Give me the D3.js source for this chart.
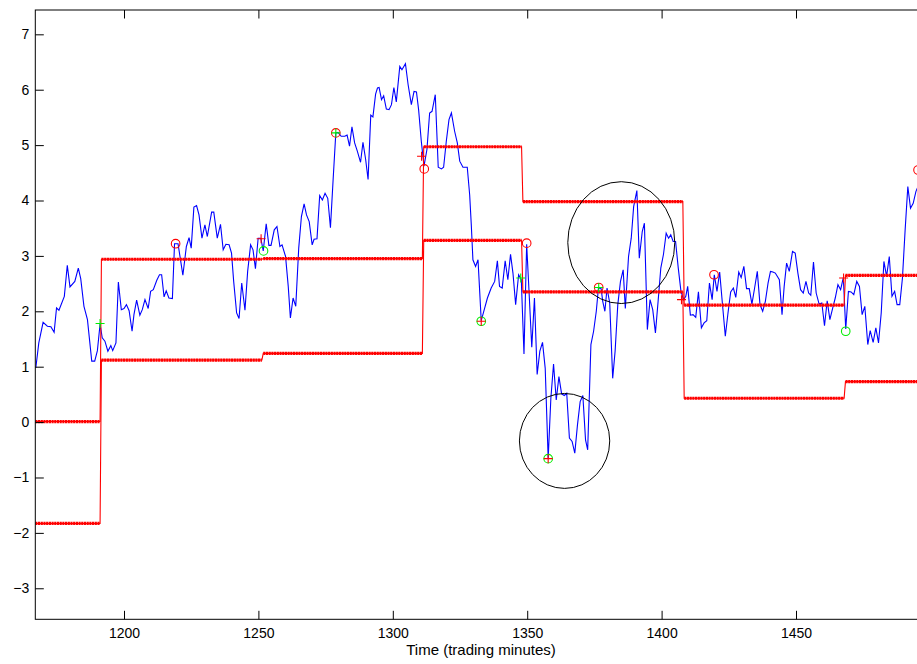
<!DOCTYPE html>
<html>
<head>
<meta charset="utf-8">
<script src="https://cdn.jsdelivr.net/npm/d3@7"></script>
<style>
  body { margin: 0; background: #fff; }
  svg { display: block; }
  text { font-family: "Liberation Sans", Arial, Helvetica, sans-serif; }
</style>
</head>
<body>
<svg id="chart" width="917" height="664"></svg>
<script>
// Spread series (trading minute, value)
const minutes = [
  1167.2,1168.3,1169.9,1171.5,1172.8,1174.0,1174.9,1175.8,1177.8,1178.9,1179.9,1181.7,1183.0,1183.9,1185.1,1186.4,
  1188.0,1189.1,1190.1,1191.1,1191.9,1192.9,1194.0,1195.1,1195.8,1197.0,1197.9,1199.0,1200.0,1200.9,1201.9,1203.0,
  1203.7,1204.7,1205.9,1206.8,1207.8,1209.0,1209.9,1210.9,1212.2,1213.2,1214.0,1214.9,1215.7,1216.7,1218.0,1218.8,
  1220.1,1221.9,1223.2,1224.2,1225.0,1226.0,1227.0,1227.9,1229.0,1230.1,1231.0,1232.6,1233.4,1234.7,1235.9,1236.9,
  1237.9,1239.1,1240.0,1240.8,1241.9,1242.8,1243.8,1245.0,1246.0,1247.1,1248.0,1248.9,1249.9,1250.9,1251.8,1252.9,
  1253.9,1254.7,1255.9,1256.9,1258.0,1258.8,1260.1,1261.1,1261.9,1262.9,1263.9,1265.0,1266.0,1267.0,1267.9,1268.9,
  1270.0,1270.7,1271.8,1272.8,1273.8,1274.8,1275.8,1276.8,1277.8,1278.8,1279.6,1280.8,1282.1,1283.0,1283.9,1284.8,
  1285.8,1286.8,1288.0,1288.9,1289.9,1290.8,1291.8,1292.6,1293.6,1294.3,1294.9,1295.8,1296.6,1297.6,1298.6,1299.5,
  1300.4,1301.3,1302.6,1303.4,1304.7,1305.7,1306.9,1307.9,1308.8,1309.6,1310.6,1311.6,1312.7,1313.7,1314.6,1315.8,
  1316.9,1318.1,1318.9,1319.9,1320.9,1321.8,1323.0,1324.0,1324.9,1326.1,1327.7,1328.6,1329.2,1329.8,1330.8,1331.7,
  1332.9,1334.2,1335.2,1336.6,1337.9,1338.9,1339.7,1340.7,1341.8,1342.8,1343.8,1344.7,1345.7,1346.8,1347.8,1348.8,
  1349.8,1350.8,1351.7,1352.7,1353.7,1354.7,1355.7,1356.7,1357.8,1358.8,1359.8,1360.8,1361.8,1362.8,1363.8,1364.7,
  1365.7,1366.7,1367.7,1368.7,1369.7,1370.7,1371.7,1372.5,1373.7,1374.7,1375.7,1376.5,1377.5,1378.1,1378.9,1379.7,
  1380.7,1381.8,1382.7,1383.7,1384.7,1385.7,1386.5,1387.7,1388.7,1389.6,1390.8,1391.7,1392.8,1393.6,1394.7,1395.7,
  1396.7,1397.7,1398.7,1399.7,1400.7,1401.7,1402.6,1403.4,1404.3,1405.2,1406.2,1407.2,1408.2,1409.0,1409.7,1410.7,
  1411.7,1412.7,1413.7,1414.8,1415.8,1416.8,1417.8,1418.8,1419.6,1420.6,1421.6,1422.6,1423.7,1424.7,1425.7,1426.7,
  1427.6,1428.7,1429.6,1430.6,1431.6,1432.6,1433.6,1434.6,1435.6,1436.6,1437.6,1438.6,1439.6,1440.5,1441.4,1442.3,
  1443.8,1444.8,1445.6,1446.5,1447.5,1448.7,1449.7,1450.7,1451.7,1452.7,1453.7,1454.7,1455.5,1456.5,1457.5,1458.6,
  1459.6,1460.6,1461.6,1462.6,1463.6,1464.6,1465.6,1466.6,1467.6,1468.5,1469.5,1470.5,1471.5,1472.6,1473.6,1474.6,
  1475.6,1476.7,1477.6,1478.7,1479.7,1480.7,1481.7,1482.7,1483.7,1484.7,1485.7,1486.7,1487.6,1488.6,1489.6,1490.6,
  1491.6,1492.6,1493.6,1494.6,1495.6
];
const values = [
  0.98,1.43,1.80,1.73,1.72,1.62,2.06,2.02,2.27,2.83,2.44,2.54,2.78,2.59,2.09,1.85,
  1.10,1.10,1.29,1.77,1.52,1.46,1.28,1.38,1.29,1.43,2.53,2.03,2.05,2.12,2.01,1.64,
  1.94,2.20,1.93,2.03,2.21,2.05,2.36,2.39,2.56,2.66,2.66,2.26,2.37,2.24,2.23,3.22,
  3.22,2.65,3.17,3.33,3.14,3.88,3.91,3.74,3.32,3.56,3.35,3.79,3.79,3.32,3.57,3.11,
  3.21,3.20,3.05,2.54,1.97,1.87,2.51,2.02,2.72,3.20,3.11,2.77,3.32,3.32,3.09,3.58,
  3.19,3.19,3.47,3.53,3.17,3.20,2.99,2.45,1.88,2.24,2.09,3.14,3.71,3.94,3.74,3.62,
  3.20,3.30,3.31,4.09,4.01,4.13,4.04,3.51,4.38,5.22,5.23,5.16,5.16,5.18,4.98,5.33,
  5.04,4.89,4.69,5.05,4.74,4.38,5.54,5.51,5.92,6.03,6.04,5.82,5.89,5.65,5.64,5.73,
  6.04,5.78,6.42,6.36,6.47,6.09,5.73,5.97,5.96,5.64,5.07,4.62,4.92,5.58,5.61,5.91,
  4.60,4.57,4.60,5.07,5.46,5.58,5.25,5.04,4.71,4.60,4.60,4.10,3.56,2.93,2.81,2.93,
  1.83,2.06,2.24,2.42,2.54,2.91,2.45,2.42,2.91,2.57,3.03,2.69,2.12,2.66,2.57,1.23,
  3.21,2.24,1.35,2.24,0.86,1.28,1.44,0.97,-0.66,0.43,1.05,0.40,0.82,0.51,0.48,0.52,
  -0.29,-0.35,-0.56,-0.05,0.37,0.48,-0.32,-0.50,1.40,1.64,2.00,2.42,2.41,2.18,2.00,2.42,
  2.15,0.79,1.28,2.12,2.54,2.75,2.05,2.99,3.32,3.89,4.18,2.96,3.44,3.59,1.67,2.21,
  2.03,1.61,2.18,2.78,3.03,3.41,3.32,3.38,3.26,3.26,2.78,2.36,2.21,2.27,2.45,1.93,
  1.94,1.89,2.35,1.70,1.79,1.83,2.51,2.21,2.66,2.36,2.71,2.15,1.55,1.97,2.35,2.42,
  2.25,2.71,2.61,2.81,2.41,2.41,2.13,2.42,2.72,2.12,2.00,2.18,2.51,2.72,2.71,2.69,
  2.57,1.94,2.45,2.87,2.72,3.08,3.05,2.69,2.39,2.33,2.54,2.33,2.29,2.89,2.33,2.13,
  2.15,1.74,2.19,1.85,2.05,2.24,2.48,2.39,2.61,1.68,2.36,2.35,2.30,2.54,2.45,1.94,
  2.09,1.40,1.65,1.44,1.70,1.43,1.97,2.90,2.63,2.99,2.27,2.36,2.12,2.12,2.60,3.47,
  4.25,3.86,3.95,4.16,4.28
];

// Trading band: level changes (start minute of each level) and the two band edges
const bandStarts = [1167, 1191.6, 1251.8, 1311.5, 1348.4, 1408.4, 1468.4];
const bandUpper  = [0.01, 2.94, 2.95, 4.97, 3.98, 2.11, 2.65];
const bandLower  = [-1.83, 1.12, 1.24, 3.28, 2.35, 0.43, 0.73];
const bandEnd = 1500;

// Signal markers [minute, value]
const redCircles   = [[1219.2, 3.22], [1278.8, 5.22], [1311.7, 4.57], [1349.8, 3.23], [1376.6, 2.43], [1419.5, 2.66], [1495.4, 4.55]];
const redPluses    = [[1251.0, 3.31], [1310.7, 4.80], [1332.9, 1.82], [1357.8, -0.66], [1407.4, 2.21], [1467.7, 2.60]];
const greenPluses  = [[1191.1, 1.78], [1278.8, 5.22], [1347.6, 2.60], [1376.6, 2.43]];
const greenCircles = [[1251.9, 3.09], [1332.9, 1.82], [1357.8, -0.66], [1468.5, 1.64]];

// Highlighted regions: [centre minute, centre value, radius in minutes, radius in value]
const highlights = [[1385.0, 3.24, 19.9, 1.10], [1363.9, -0.34, 16.8, 0.857]];

// Axis ticks and title
const xTicks = [1200, 1250, 1300, 1350, 1400, 1450];
const yTicks = [-3, -2, -1, 0, 1, 2, 3, 4, 5, 6, 7];
const xTitle = "Time (trading minutes)";

const svg = d3.select("#chart");
const L = 35.3, T = 10, B = 619.3;
const x = d3.scaleLinear().domain([1167, 1500]).range([L, L + 333 * 2.688]);
const y = d3.scaleLinear().domain([-3.56, 7.439]).range([B, T]);
const R = x(1500);

svg.append("defs").append("clipPath").attr("id", "plot")
  .append("rect").attr("x", L).attr("y", T).attr("width", R - L).attr("height", B - T);

const plot = svg.append("g").attr("clip-path", "url(#plot)");

// Spread line
const pts = minutes.map((m, i) => [m, values[i]]);
plot.append("path")
  .attr("d", d3.line().x(d => x(d[0])).y(d => y(d[1]))(pts))
  .attr("fill", "none").attr("stroke", "#0000ff").attr("stroke-width", 1.1);

// Band edges: thin connecting line plus thick dotted level segments
function bandPath(levels) {
  const p = [];
  levels.forEach((v, i) => {
    const s = bandStarts[i];
    const e = i < levels.length - 1 ? bandStarts[i + 1] - 0.5 : bandEnd;
    p.push([s, v], [e, v]);
  });
  return p;
}
[bandUpper, bandLower].forEach(levels => {
  const p = bandPath(levels);
  plot.append("path")
    .attr("d", d3.line().x(d => x(d[0])).y(d => y(d[1]))(p))
    .attr("fill", "none").attr("stroke", "#ff0000").attr("stroke-width", 1.1);
  levels.forEach((v, i) => {
    const s = bandStarts[i];
    const e = i < levels.length - 1 ? bandStarts[i + 1] - 0.5 : bandEnd;
    plot.append("line")
      .attr("x1", x(s)).attr("x2", x(e)).attr("y1", y(v)).attr("y2", y(v))
      .attr("stroke", "#ff0000").attr("stroke-width", 3.2)
      .attr("stroke-dasharray", "2.2 0.5");
  });
});

// Markers
function circles(data, color) {
  plot.selectAll(null).data(data).enter().append("circle")
    .attr("cx", d => x(d[0])).attr("cy", d => y(d[1])).attr("r", 4.3)
    .attr("fill", "none").attr("stroke", color).attr("stroke-width", 1.1);
}
function pluses(data, color) {
  plot.selectAll(null).data(data).enter().append("path")
    .attr("d", d => {
      const cx = x(d[0]), cy = y(d[1]), h = 4.5;
      return `M${cx - h},${cy}H${cx + h}M${cx},${cy - h}V${cy + h}`;
    })
    .attr("stroke", color).attr("stroke-width", 1.1).attr("fill", "none");
}
circles(redCircles, "#ff0000");
circles(greenCircles, "#00ee00");
pluses(redPluses, "#ff0000");
pluses(greenPluses, "#00ee00");

// Highlight ellipses
plot.selectAll(null).data(highlights).enter().append("ellipse")
  .attr("cx", d => x(d[0])).attr("cy", d => y(d[1]))
  .attr("rx", d => x(d[0] + d[2]) - x(d[0]))
  .attr("ry", d => y(d[1] - d[3]) - y(d[1]))
  .attr("fill", "none").attr("stroke", "#000").attr("stroke-width", 1);

// Axes (ticks point inward)
const fmt = d3.format("");
const axisStyle = g => {
  g.select(".domain").remove();
  g.selectAll("line").attr("stroke", "#000");
  g.selectAll("text").attr("font-size", 14).attr("fill", "#000")
    .style("font-family", '"Liberation Sans", Arial, sans-serif');
};
svg.append("g").attr("transform", `translate(0,${B})`)
  .call(d3.axisBottom(x).tickValues(xTicks).tickSize(-8.5).tickPadding(9).tickFormat(fmt))
  .call(axisStyle);
svg.append("g").attr("transform", `translate(0,${T})`)
  .call(d3.axisTop(x).tickValues(xTicks).tickSize(-8.5).tickFormat(""))
  .call(axisStyle);
svg.append("g").attr("transform", `translate(${L},0)`)
  .call(d3.axisLeft(y).tickValues(yTicks).tickSize(-8.5).tickPadding(6))
  .call(axisStyle);

svg.append("rect").attr("x", L).attr("y", T).attr("width", R - L).attr("height", B - T)
  .attr("fill", "none").attr("stroke", "#000").attr("stroke-width", 1);

svg.append("text").attr("x", 481).attr("y", 655).attr("text-anchor", "middle")
  .attr("font-size", 15).attr("fill", "#000").text(xTitle);
</script>
</body>
</html>
